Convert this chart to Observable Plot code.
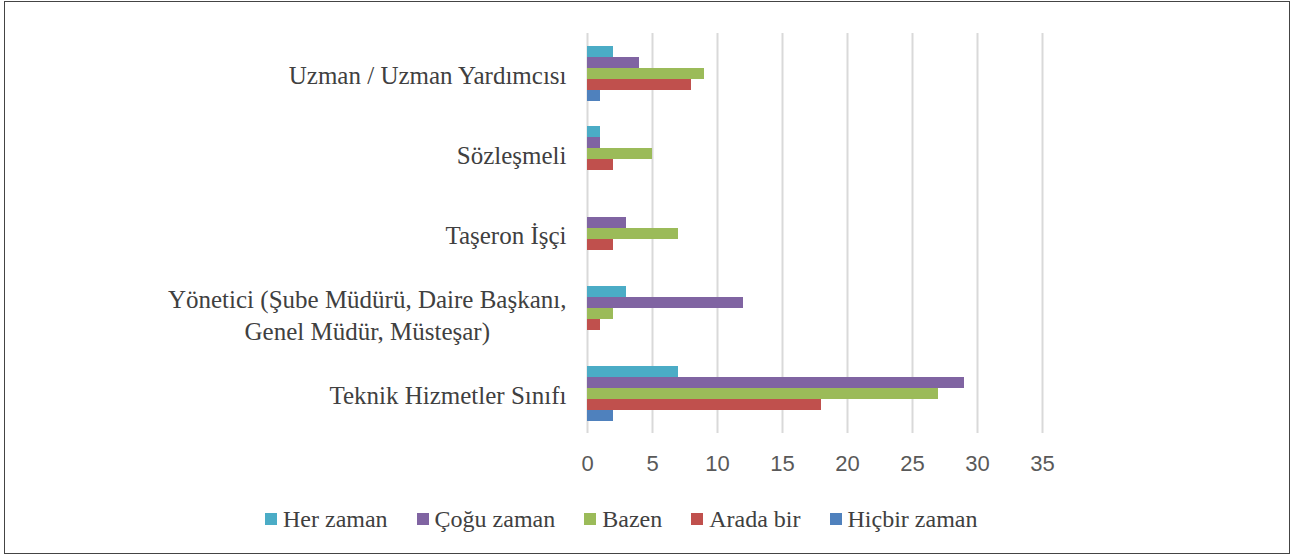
<!DOCTYPE html>
<html>
<head>
<meta charset="utf-8">
<script src="https://cdn.jsdelivr.net/npm/d3@7"></script>
<script src="https://cdn.jsdelivr.net/npm/@observablehq/plot@0.6"></script>
<style>
  html, body { margin: 0; padding: 0; background: #fff; }
  #frame { position: absolute; left: 4px; top: 1px; width: 1286px; height: 553px; border: 1.5px solid #444; box-sizing: border-box; }
  #chart { position: absolute; left: 0; top: 0; }
  #legend { position: absolute; left: 265px; top: 505px; height: 28px; display: flex; align-items: center; gap: 29px;
            font-family: "Liberation Serif", "Times New Roman", Tinos, "Noto Serif", "DejaVu Serif", serif; font-size: 24px; color: #404040; white-space: nowrap; }
  #legend .item { display: flex; align-items: center; }
  #legend .sw { width: 12px; height: 12px; margin-right: 6px; }
</style>
</head>
<body>
<div id="frame"></div>
<div id="chart"></div>
<div id="legend"></div>
<script>
const categories = [
  "Uzman / Uzman Yardımcısı",
  "Sözleşmeli",
  "Taşeron İşçi",
  "Yönetici (Şube Müdürü, Daire Başkanı,\nGenel Müdür, Müsteşar)",
  "Teknik Hizmetler Sınıfı"
];
const series = ["Her zaman", "Çoğu zaman", "Bazen", "Arada bir", "Hiçbir zaman"];
const herZaman    = [2, 1, 0, 3, 7];
const coguZaman   = [4, 1, 3, 12, 29];
const bazen       = [9, 5, 7, 2, 27];
const aradaBir    = [8, 2, 2, 1, 18];
const hicbirZaman = [1, 0, 0, 0, 2];
const xTicks = [0, 5, 10, 15, 20, 25, 30, 35];
const colors = ["#4bacc6", "#8064a2", "#9bbb59", "#c0504d", "#4f81bd"];
const serifFont = "'Liberation Serif', 'Times New Roman', Tinos, 'Noto Serif', 'DejaVu Serif', serif";

const seriesValues = [herZaman, coguZaman, bazen, aradaBir, hicbirZaman];
const table = [];
categories.forEach((c, ci) => {
  series.forEach((s, si) => {
    table.push({category: c, series: s, value: seriesValues[si][ci]});
  });
});

const plot = Plot.plot({
  width: 1305,
  height: 490,
  marginLeft: 587,
  marginRight: 263,
  marginTop: 33,
  marginBottom: 56.5,
  x: {domain: [0, 35]},
  fy: {domain: categories, padding: 0},
  y: {domain: series, paddingInner: 0, paddingOuter: 0.92, axis: null},
  color: {domain: series, range: colors},
  marks: [
    Plot.gridX(xTicks, {stroke: "#d9d9d9", strokeOpacity: 1, strokeWidth: 2}),
    Plot.barX(table, {x: "value", y: "series", fy: "category", fill: "series"}),
    Plot.axisX(xTicks, {tickSize: 0, tickPadding: 22, fontSize: 22, fontFamily: "'Liberation Sans', sans-serif", color: "#595959", label: null}),
    Plot.axisFy({anchor: "left", tickSize: 0, tickPadding: 21, fontSize: 25, fontFamily: serifFont, color: "#404040", label: null, lineHeight: 1.27})
  ]
});
document.getElementById("chart").appendChild(plot);

// center multi-line category labels within their right-aligned block
d3.select(plot).selectAll("text").each(function() {
  const tspans = this.querySelectorAll("tspan");
  if (tspans.length > 1) {
    const w = this.getBBox().width;
    this.setAttribute("text-anchor", "middle");
    const t = this.getAttribute("transform") || "";
    this.setAttribute("transform", t + ` translate(${-w / 2},0)`);
  }
});

const legend = d3.select("#legend");
series.forEach((s, i) => {
  const item = legend.append("div").attr("class", "item");
  item.append("div").attr("class", "sw").style("background", colors[i]);
  item.append("span").text(s);
});
</script>
</body>
</html>
